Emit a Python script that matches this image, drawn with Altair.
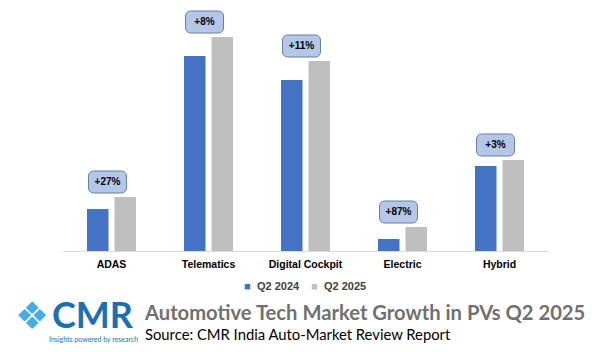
import altair as alt
import pandas as pd

categories = ["ADAS", "Telematics", "Digital Cockpit", "Electric", "Hybrid"]
q2_2024 = [42, 195, 171, 12, 85]
q2_2025 = [54, 214, 190, 24, 91]
growth_labels = ["+27%", "+8%", "+11%", "+87%", "+3%"]
series = ["Q2 2024", "Q2 2025"]
colors = ["#4472c4", "#bfbfbf"]

title_text = "Automotive Tech Market Growth in PVs Q2 2025"
source_text = "Source: CMR India Auto-Market Review Report"
logo_text = "CMR"
logo_tag = "Insights powered by research"

rows = []
for c, a, b in zip(categories, q2_2024, q2_2025):
    rows.append({"cat": c, "series": series[0], "val": a})
    rows.append({"cat": c, "series": series[1], "val": b})
bars_df = pd.DataFrame(rows)
lab_df = pd.DataFrame({"cat": categories, "top": q2_2025, "label": growth_labels})

xscale = alt.Scale(domain=categories, paddingInner=0, paddingOuter=0)
yscale = alt.Scale(domain=[0, 241])

bars = alt.Chart(bars_df).mark_bar().encode(
    x=alt.X("cat:N", scale=xscale, sort=categories,
            axis=alt.Axis(title=None, labelAngle=0, ticks=False, domainColor="#d9d9d9",
                          labelFont="Liberation Sans", labelFontWeight="bold",
                          labelFontSize=10.5, labelColor="#000000", labelPadding=8)),
    xOffset=alt.XOffset("series:N", sort=series,
                        scale=alt.Scale(paddingInner=0.218, paddingOuter=0.873)),
    y=alt.Y("val:Q", scale=yscale, axis=None),
    color=alt.Color("series:N", sort=series,
                    scale=alt.Scale(domain=series, range=colors),
                    legend=alt.Legend(title=None, orient="none", direction="horizontal",
                                      legendX=179, legendY=271, symbolType="square",
                                      symbolSize=30, symbolStrokeWidth=0,
                                      labelFont="Liberation Sans", labelFontWeight="bold",
                                      labelFontSize=11, labelColor="#404040",
                                      columnPadding=9, symbolOffset=0)),
)

boxes = alt.Chart(lab_df).mark_bar(
    width=38, xOffset=-4, yOffset=-4, y2Offset=-26, cornerRadius=5,
    fill="#b4c7e7", stroke="#6a7ea8", strokeWidth=1,
).encode(
    x=alt.X("cat:N", scale=xscale, sort=categories),
    y=alt.Y("top:Q", scale=yscale),
    y2="top:Q",
)

labels = alt.Chart(lab_df).mark_text(
    dx=-4, dy=-15, baseline="middle", align="center",
    font="Liberation Sans", fontWeight="bold", fontSize=10, color="#000000",
).encode(
    x=alt.X("cat:N", scale=xscale, sort=categories),
    y=alt.Y("top:Q", scale=yscale),
    text="label:N",
)

def txt(t, **kw):
    return alt.Chart(pd.DataFrame({"t": [t]})).mark_text(**kw).encode(text="t:N")

title = txt(title_text, align="left", baseline="alphabetic", font="Lato",
            fontWeight="bold", fontSize=20.2, color="#707070").encode(
    x=alt.value(82), y=alt.value(310))
source = txt(source_text, align="left", baseline="alphabetic", font="Lato",
             fontSize=14.8, color="#000000").encode(x=alt.value(82), y=alt.value(330))
logo = txt(logo_text, align="left", baseline="alphabetic", font="Lato",
           fontWeight="bold", fontSize=36, color="#1c6fb6").encode(
    x=alt.value(-11), y=alt.value(318))
tag = txt(logo_tag, align="left", baseline="alphabetic", font="Lato",
          fontSize=7, color="#1c6fb6").encode(x=alt.value(-14), y=alt.value(332))
icon = txt("\u2756", align="center", baseline="middle", font="DejaVu Sans",
           fontSize=38, color="#43aee6").encode(x=alt.value(-31), y=alt.value(308))

chart = alt.layer(bars, boxes, labels, title, source, logo, tag, icon).properties(
    width=485, height=241,
    autosize=alt.AutoSizeParams(type="none"),
    padding={"left": 63, "top": 10, "right": 44, "bottom": 101},
).configure(background="#ffffff").configure_view(stroke=None, strokeWidth=0)

chart.save("out.html", embed_options={"renderer": "svg", "actions": False})
